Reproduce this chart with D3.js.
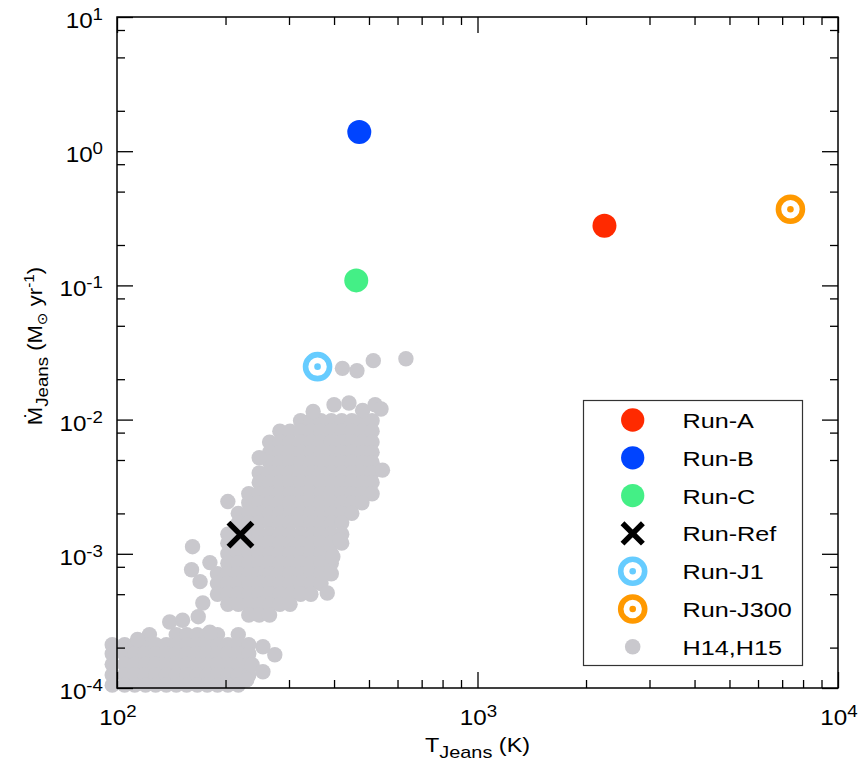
<!DOCTYPE html>
<html><head><meta charset="utf-8">
<script src="https://cdn.jsdelivr.net/npm/d3@7"></script>
<style>body{margin:0;background:#fff} text{font-family:"Liberation Sans",Arial,Helvetica,sans-serif;fill:#000}</style>
</head><body>
<svg id="c" width="860" height="773"></svg>
<script>
// ---------- data ----------
const runNames  = ["Run-A","Run-B","Run-C","Run-Ref","Run-J1","Run-J300"];
const runT      = [2250, 470, 461, 220, 360, 7380];
const runMdot   = [0.278, 1.39, 0.109, 0.00139, 0.0248, 0.369];
const runColors = ["#ff2a00","#0044ff","#44ef86","#000000","#66ccff","#ff9900"];
const runShapes = ["dot","dot","dot","cross","target","target"];

const grayName  = "H14,H15";
const grayColor = "#c9c8cd";
// H14,H15 sample, row by row (Mdot, list of T)
const grayRowMdot = [0.0098,0.0082,0.0068,0.0057,0.0048,0.0040,0.0034,0.0028,0.0024,0.0020,
  0.0017,0.0014,0.0012,0.0010,0.00085,0.00071,0.00060,0.00050,0.00042,0.00035,
  0.00025,0.00021,0.00018,0.00015,0.000125,0.000105];
const grayRowT = [
  [323,345,368,393,420,448,478,510],
  [283,302,323,345,368,393,420,448,478,510],
  [265,283,302,323,345,368,393,420,448,478,510],
  [265,283,302,323,345,368,393,420,448,478,510],
  [265,283,302,323,345,368,393,420,448,478,510],
  [248,265,283,302,323,345,368,393,420,448,478,510],
  [248,265,283,302,323,345,368,393,420,448,478,510],
  [232,248,265,283,302,323,345,368,393,420,448,478,510],
  [232,248,265,283,302,323,345,368,393,420,448,478],
  [217,232,248,265,283,302,323,345,368,393,420,448],
  [217,232,248,265,283,302,323,345,368,393,420],
  [203,217,232,248,265,283,302,323,345,368,393,420],
  [203,217,232,248,265,283,302,323,345,368,393,420],
  [203,217,232,248,265,283,302,323,345,368,393],
  [203,217,232,248,265,283,302,323,345,368,393],
  [190,203,217,232,248,265,283,302,323,345,368,393],
  [190,203,217,232,248,265,283,302,323,345,368],
  [190,203,217,232,248,265,283,302,323,345],
  [203,217,232,248,265,283,302],
  [232,248,265],
  [123,146,156,167,178,190,217],
  [97,105,112,120,128,137,146,156,167,178,190,203,217,232],
  [97,105,112,120,128,137,146,156,167,178,190,203,217,232],
  [97,105,112,120,128,137,146,156,167,178,190,203,217,232],
  [97,105,112,120,128,137,146,156,167,178,190,203,217,232],
  [97,105,112,120,128,137,146,156,167,178,190,203,217]
];
const grayExtraT    = [350,400,440,480,520,540, 422,463,514,633, 248,545,203,162,161,181,170,173,168,383,397,415, 140,152,114,254,274,237,254,229,181];
const grayExtraMdot = [0.0115,0.0129,0.0133,0.0117,0.0129,0.012, 0.0241,0.0231,0.0275,0.0284,
  0.0052,0.0042,0.00245,0.00113,0.00076,0.00086,0.00062,0.00043,0.00034,0.00051,0.00095,0.00127,
  0.00031,0.00032,0.00023,0.000203,0.000177,0.000149,0.000132,0.000115,0.00026];

const xMajor = [1e2,1e3,1e4];
const xMajorExp = ["2","3","4"];
const xMinorMult = [2,3,4,5,6,7,8,9];
const yMajor = [1e-4,1e-3,1e-2,1e-1,1e0,1e1];
const yMajorExp = ["-4","-3","-2","-1","0","1"];
const yMinorMult = [2,5,8];

// ---------- chart ----------
const svg = d3.select("#c");
const L=117, R=838, T=17, B=688;
const x = d3.scaleLog().domain([1e2,1e4]).range([L,R]);
const y = d3.scaleLog().domain([1e-4,1e1]).range([B,T]);

const xMinor = [1e2,1e3].flatMap(d=>xMinorMult.map(m=>d*m));
const yMinor = [1e-4,1e-3,1e-2,1e-1,1e0].flatMap(d=>yMinorMult.map(m=>d*m));

// gray sample
const gray = [];
grayRowMdot.forEach((m,i)=>grayRowT[i].forEach(t=>gray.push([t,m])));
grayExtraT.forEach((t,i)=>gray.push([t,grayExtraMdot[i]]));
svg.append("g").selectAll("circle").data(gray).join("circle")
  .attr("cx",d=>x(d[0])).attr("cy",d=>y(d[1])).attr("r",7.7).attr("fill",grayColor);

function marker(g, shape, color, cx, cy, s){
  if(shape==="dot"){
    g.append("circle").attr("cx",cx).attr("cy",cy).attr("r",12*s).attr("fill",color);
  } else if(shape==="cross"){
    const a=12*s;
    g.append("path").attr("d",`M${cx-a},${cy-a}L${cx+a},${cy+a}M${cx-a},${cy+a}L${cx+a},${cy-a}`)
      .attr("stroke",color).attr("stroke-width",5.5).attr("fill","none");
  } else if(shape==="target"){
    g.append("circle").attr("cx",cx).attr("cy",cy).attr("r",12).attr("fill","none").attr("stroke",color).attr("stroke-width",5.6);
    g.append("circle").attr("cx",cx).attr("cy",cy).attr("r",3.3).attr("fill",color);
  } else if(shape==="gray"){
    g.append("circle").attr("cx",cx).attr("cy",cy).attr("r",7.8).attr("fill",color);
  }
}
const gm = svg.append("g");
runNames.forEach((n,i)=>marker(gm, runShapes[i], runColors[i], x(runT[i]), y(runMdot[i]), 1));

// axes (inward ticks on all four sides)
function ax(gen, tx, ty){
  svg.append("g").attr("transform",`translate(${tx},${ty})`).call(gen)
    .call(g=>g.select(".domain").remove())
    .selectAll("line").attr("stroke","#000").attr("stroke-width",1.3);
}
ax(d3.axisBottom(x).tickValues(xMajor).tickSize(-16).tickFormat(""),0,B);
ax(d3.axisBottom(x).tickValues(xMinor).tickSize(-8).tickFormat(""),0,B);
ax(d3.axisTop(x).tickValues(xMajor).tickSize(-16).tickFormat(""),0,T);
ax(d3.axisTop(x).tickValues(xMinor).tickSize(-8).tickFormat(""),0,T);
ax(d3.axisLeft(y).tickValues(yMajor).tickSize(-16).tickFormat(""),L,0);
ax(d3.axisLeft(y).tickValues(yMinor).tickSize(-8).tickFormat(""),L,0);
ax(d3.axisRight(y).tickValues(yMajor).tickSize(-16).tickFormat(""),R,0);
ax(d3.axisRight(y).tickValues(yMinor).tickSize(-8).tickFormat(""),R,0);
svg.append("rect").attr("x",L).attr("y",T).attr("width",R-L).attr("height",B-T)
  .attr("fill","none").attr("stroke","#000").attr("stroke-width",1.5);

// tick labels
svg.append("g").selectAll("text").data(xMajor).join("text")
  .attr("transform",d=>`translate(${x(d)+1},725) scale(1.1,1)`).attr("text-anchor","middle").attr("font-size",22)
  .each(function(d,i){const t=d3.select(this);
    t.append("tspan").text("10");
    t.append("tspan").attr("font-size",17).attr("dy",-8).text(xMajorExp[i]);});
svg.append("g").selectAll("text").data(yMajor).join("text")
  .attr("transform",d=>`translate(103,${y(d)+11}) scale(1.1,1)`).attr("text-anchor","end").attr("font-size",22)
  .each(function(d,i){const t=d3.select(this);
    t.append("tspan").text("10");
    t.append("tspan").attr("font-size",17).attr("dy",-8).text(yMajorExp[i]);});

// axis titles
const xt = svg.append("text").attr("transform",`translate(${(L+R)/2},752) scale(1.17,1)`)
  .attr("text-anchor","middle").attr("font-size",20);
xt.append("tspan").text("T");
xt.append("tspan").attr("font-size",17).attr("dy",6).text("Jeans");
xt.append("tspan").attr("dy",-6).text(" (K)");

const yt = svg.append("text").attr("transform",`translate(42,346) rotate(-90) scale(1.1,1)`)
  .attr("text-anchor","middle").attr("font-size",20);
yt.append("tspan").text("Ṁ");
yt.append("tspan").attr("font-size",17).attr("dy",6).text("Jeans");
yt.append("tspan").attr("dy",-6).text(" (M");
yt.append("tspan").attr("font-size",14).attr("dy",5).attr("font-family","DejaVu Sans").text("⊙");
yt.append("tspan").attr("dy",-5).text(" yr");
yt.append("tspan").attr("font-size",14).attr("dy",-8).text("-1");
yt.append("tspan").attr("dy",8).text(")");

// legend
const lg = svg.append("g");
lg.append("rect").attr("x",583.5).attr("y",400.5).attr("width",219).attr("height",265)
  .attr("fill","#fff").attr("stroke","#333").attr("stroke-width",1.2);
const legNames = runNames.concat([grayName]);
const legShapes = runShapes.concat(["gray"]);
const legColors = runColors.concat([grayColor]);
legNames.forEach((n,i)=>{
  const cy = 420 + i*37.8;
  marker(lg, legShapes[i], legColors[i], 632.7, cy, legShapes[i]==="cross"?0.85:0.97);
  lg.append("text").attr("transform",`translate(682.5,${cy+8}) scale(1.2,1)`).attr("font-size",21).text(n);
});
</script>
</body></html>
